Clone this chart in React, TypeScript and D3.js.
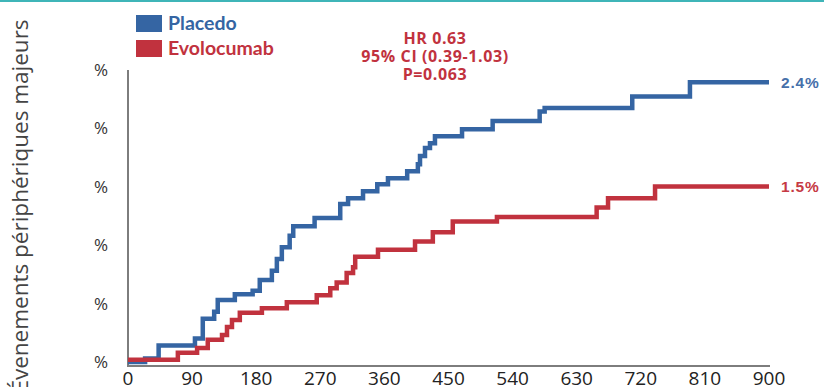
import { useEffect, useRef } from "react";
import * as d3 from "d3";

// Kaplan-Meier style cumulative incidence (%)
const placeboDays = [0, 24, 43, 94, 105, 121, 126, 150, 175, 185, 202, 209, 216, 227, 232, 262, 298, 309, 330, 350, 365, 392, 407, 410, 417, 424, 431, 469, 512, 578, 585, 708, 789, 900];
const placeboPct = [0, 0.03, 0.14, 0.2, 0.37, 0.43, 0.53, 0.58, 0.61, 0.7, 0.78, 0.88, 0.98, 1.08, 1.16, 1.23, 1.35, 1.4, 1.46, 1.52, 1.57, 1.63, 1.69, 1.76, 1.83, 1.87, 1.93, 1.99, 2.06, 2.14, 2.17, 2.27, 2.39, 2.39];

const evoDays = [0, 70, 97, 112, 132, 139, 146, 157, 188, 223, 265, 284, 293, 307, 316, 319, 351, 403, 428, 456, 518, 658, 674, 740, 900];
const evoPct = [0.02, 0.08, 0.12, 0.19, 0.23, 0.3, 0.36, 0.42, 0.46, 0.51, 0.57, 0.63, 0.68, 0.76, 0.81, 0.9, 0.96, 1.03, 1.11, 1.2, 1.24, 1.32, 1.4, 1.5, 1.5];

const xTicks = [0, 90, 180, 270, 360, 450, 540, 630, 720, 810, 900];
const yTicks = [0, 0.5, 1, 1.5, 2, 2.5];

const seriesNames = ["Placedo", "Evolocumab"];
const endLabels = ["2.4%", "1.5%"];
const statLines = ["HR 0.63", "95% CI (0.39-1.03)", "P=0.063"];

const BLUE = "#3565a3";
const RED = "#c1323e";
const AXIS = "#7d7d7d";
const FONT = "'Open Sans', 'Noto Sans', sans-serif";
const BOLD = "Lato, 'Open Sans', sans-serif";

export default function App() {
  const ref = useRef<SVGSVGElement>(null);

  useEffect(() => {
    const el = ref.current;
    if (!el) return;
    const svg = d3.select(el);
    svg.selectAll("*").remove();

    const W = 824;
    const H = 387;
    svg.attr("width", W).attr("height", H).attr("viewBox", `0 0 ${W} ${H}`);

    svg.append("rect").attr("width", W).attr("height", H).attr("fill", "#fff");
    // teal rule along the top
    svg.append("rect").attr("x", 0).attr("y", 0).attr("width", W).attr("height", 2).attr("fill", "#3fb5b8");

    const x = d3.scaleLinear().domain([0, 900]).range([128, 769]);
    const y = d3.scaleLinear().domain([0, 2.5]).range([362, 69.5]);

    // axes
    svg.append("line")
      .attr("x1", 128).attr("x2", 128).attr("y1", 70).attr("y2", 366)
      .attr("stroke", AXIS).attr("stroke-width", 2);
    svg.append("line")
      .attr("x1", 127).attr("x2", 770).attr("y1", 366).attr("y2", 366)
      .attr("stroke", AXIS).attr("stroke-width", 2);

    svg.append("g")
      .selectAll("text")
      .data(yTicks)
      .join("text")
      .attr("x", 101)
      .attr("y", (d) => y(d) + 6)
      .attr("text-anchor", "middle")
      .attr("font-family", FONT)
      .attr("font-size", 17)
      .attr("fill", "#333")
      .text("%");

    // tick labels sit right at the bottom edge, as in the reference
    svg.append("g")
      .selectAll("text")
      .data(xTicks)
      .join("text")
      .attr("x", (d) => x(d))
      .attr("y", 385)
      .attr("text-anchor", "middle")
      .attr("font-family", FONT)
      .attr("font-size", 19)
      .attr("fill", "#222")
      .text((d) => String(d));

    svg.append("text")
      .attr("transform", "translate(28,206) rotate(-90)")
      .attr("text-anchor", "middle")
      .attr("font-family", FONT)
      .attr("font-size", 22.5)
      .attr("fill", "#444")
      .text("Évenements périphériques majeurs");

    const line = d3.line<[number, number]>()
      .x((d) => x(d[0]))
      .y((d) => y(d[1]))
      .curve(d3.curveStepAfter);

    const series = [
      { days: placeboDays, pct: placeboPct, color: BLUE },
      { days: evoDays, pct: evoPct, color: RED },
    ];

    // red drawn last so it sits over blue at the start, as in the reference
    series.forEach((s) => {
      const pts = s.days.map((d, i) => [d, s.pct[i]] as [number, number]);
      svg.append("path")
        .attr("d", line(pts))
        .attr("fill", "none")
        .attr("stroke", s.color)
        .attr("stroke-width", 4.5)
        .attr("stroke-linejoin", "miter");
    });

    // end labels
    series.forEach((s, i) => {
      svg.append("text")
        .attr("x", 781)
        .attr("y", y(s.pct[s.pct.length - 1]) + 5.5)
        .attr("font-family", "'Liberation Sans', Arial, sans-serif")
        .attr("font-weight", 700)
        .attr("font-size", 15.5)
        .attr("letter-spacing", 0.8)
        .attr("fill", i === 0 ? "#4670aa" : "#c63a44")
        .text(endLabels[i]);
    });

    // legend
    const legend = svg.append("g").attr("transform", "translate(136,15)");
    seriesNames.forEach((name, i) => {
      legend.append("rect")
        .attr("x", 0).attr("y", i * 25)
        .attr("width", 26).attr("height", 17)
        .attr("fill", series[i].color);
      legend.append("text")
        .attr("x", 32).attr("y", i * 25 + 15)
        .attr("font-family", BOLD)
        .attr("font-weight", 700)
        .attr("font-size", 19.5)
        .attr("fill", series[i].color)
        .text(name);
    });

    // hazard ratio block
    svg.append("g")
      .selectAll("text")
      .data(statLines)
      .join("text")
      .attr("x", 435)
      .attr("y", (_, i) => 44 + i * 18)
      .attr("text-anchor", "middle")
      .attr("font-family", FONT)
      .attr("font-weight", 700)
      .attr("font-size", 16)
      .attr("letter-spacing", 0.6)
      .attr("fill", RED)
      .text((d) => d);
  }, []);

  return <svg ref={ref} style={{ position: "absolute", left: 0, top: 0 }} />;
}
